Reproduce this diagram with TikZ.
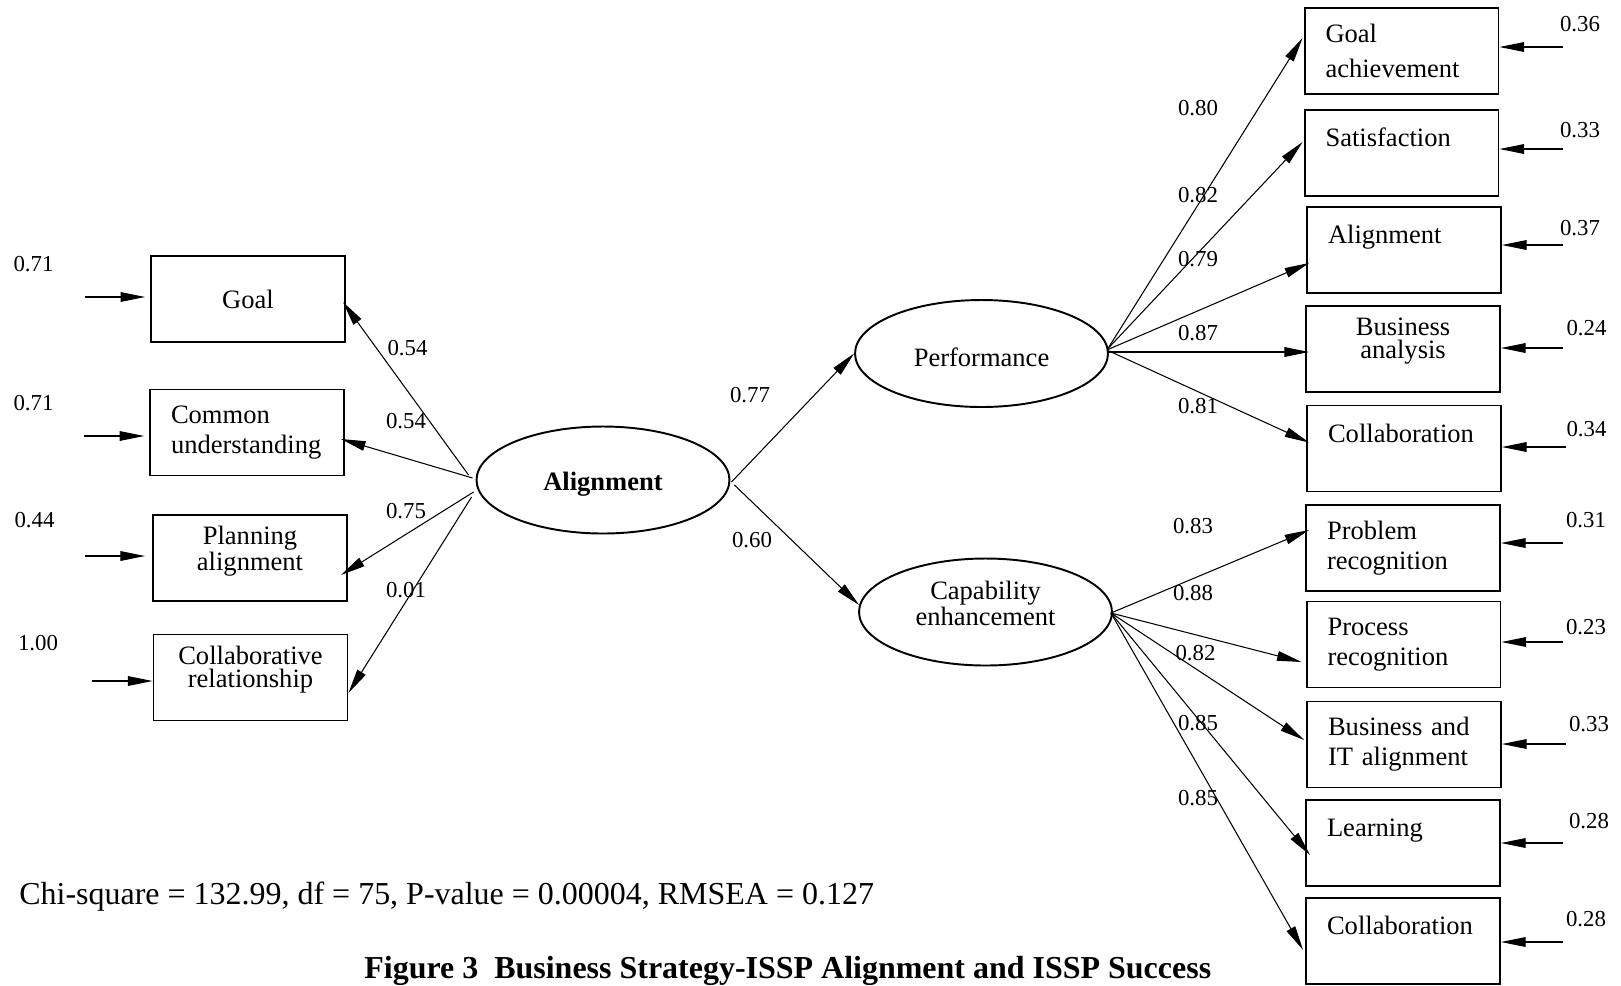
\documentclass[tikz,border=0pt]{standalone}
\usepackage{fontspec}
\setmainfont{Liberation Serif}
\usetikzlibrary{arrows.meta,shapes.geometric,calc}

\begin{document}
\begin{tikzpicture}[x=0.02cm,y=-0.02cm,
		ind/.style={draw,line width=1.1pt,minimum width=3.88cm,minimum height=1.72cm,inner sep=0pt,text width=3.04cm,align=left,font=\fontsize{15.1}{17.1}\selectfont},
		indone/.style={ind,text depth=0.62cm},
		indc/.style={ind,align=center,text depth=0.9cm,font=\fontsize{15.1}{13.3}\selectfont},
		lat/.style={draw,ellipse,line width=1.1pt,minimum width=5.06cm,minimum height=2.14cm,inner sep=0pt,align=center,font=\fontsize{15.1}{13.6}\selectfont},
		load/.style={-{Triangle[length=14pt,width=5.5pt]},line width=0.6pt},
		err/.style={-{Triangle[length=14pt,width=5.5pt]},line width=0.6pt},
		num/.style={inner sep=0pt,font=\fontsize{13}{15}\selectfont}]
			\useasboundingbox (0,0) rectangle (1621,985);
			% latent variables
			\node[lat,text height=0.54cm] (al) at (603,480) {\bfseries Alignment};
			\node[lat,text height=0.54cm] (pf) at (981.5,353.5) {Performance};
			\node[lat,text depth=0.36cm] (cp) at (985.5,612) {Capability\\enhancement};
			% alignment indicators
			\node[ind,align=center] (go) at (248,299) {Goal};
			\node[ind] (cu) at (247,432.5) {Common\\understanding};
			\node[indc] (pl) at (250,558) {Planning\\alignment};
			\node[indc] (cr) at (250.5,677.5) {Collaborative\\relationship};
			% success indicators
			\node[ind] (ga) at (1401.5,51) {Goal\\[2.8pt]achievement};
			\node[indone] (sa) at (1401.5,153) {Satisfaction};
			\node[indone] (am) at (1404,250) {Alignment};
			\node[indc] (ba) at (1403,349) {Business\\analysis};
			\node[indone] (co) at (1404,448.5) {Collaboration};
			\node[ind] (pr) at (1403,548) {Problem\\recognition};
			\node[ind] (pc) at (1403.5,644.5) {Process\\recognition};
			\node[ind] (bi) at (1404,744.5) {Business and\\IT alignment};
			\node[indone] (le) at (1403,843) {Learning};
			\node[indone] (cl) at (1403,941) {Collaboration};
			% loadings
			\draw[load] ($(al.west)+(-7,-5)$) to ($(go.east)+(-3,3)$);
			\draw[load] ($(al.west)+(-3,-2)$) to ($(cu.east)+(-4,6.5)$);
			\draw[load] ($(al.west)+(-2,12)$) to ($(pl.east)+(-7,17)$);
			\draw[load] ($(al.west)+(-4,17)$) to ($(cr.east)+(0,15.5)$);
			\draw[load] ($(al.east)+(1,2)$) to (pf.west);
			\draw[load] ($(al.east)+(4,5)$) to ($(cp.west)+(1,-7)$);
			\draw[load] ($(pf.east)+(-1,-5)$) to ($(ga.west)+(-1,-13)$);
			\draw[load] ($(pf.east)+(-1,-5)$) to ($(sa.west)+(-1,-11)$);
			\draw[load] ($(pf.east)+(-1,-4)$) to ($(am.west)+(3,13)$);
			\draw[load] ($(pf.east)+(-1,-1.5)$) to ($(ba.west)+(4,3)$);
			\draw[load] ($(pf.east)+(-1,-3)$) to ($(co.west)+(3,-6)$);
			\draw[load] ($(cp.east)+(-2,1)$) to ($(pr.west)+(4,-18)$);
			\draw[load] ($(cp.east)+(-2,1)$) to ($(pc.west)+(-4,17.5)$);
			\draw[load] ($(cp.east)+(-2,1)$) to ($(bi.west)+(-2,-4.5)$);
			\draw[load] ($(cp.east)+(-2,1)$) to ($(le.west)+(5,12)$);
			\draw[load] ($(cp.east)+(-2,1)$) to ($(cl.west)+(-2,9)$);
			% error terms
			\coordinate (ego) at (85,297);
			\coordinate (ecu) at (84,436);
			\coordinate (epl) at (85,556);
			\coordinate (ecr) at (92,681);
			\draw[err,shorten >=2.8pt] (ego) to (ego -| go.west);
			\draw[err,shorten >=2.8pt] (ecu) to (ecu -| cu.west);
			\draw[err,shorten >=4pt] (epl) to (epl -| pl.west);
			\draw[err] (ecr) to (ecr -| cr.west);
			\coordinate (ega) at (1563,47);
			\coordinate (esa) at (1563,149);
			\coordinate (eam) at (1563,245);
			\coordinate (eba) at (1563,348);
			\coordinate (eco) at (1566,447);
			\coordinate (epr) at (1563,543);
			\coordinate (epc) at (1563,642);
			\coordinate (ebi) at (1566,744);
			\coordinate (ele) at (1563,843);
			\coordinate (ecl) at (1563,942);
			\draw[err] (ega) to (ega -| ga.east);
			\draw[err] (esa) to (esa -| sa.east);
			\draw[err] (eam) to (eam -| am.east);
			\draw[err] (eba) to (eba -| ba.east);
			\draw[err] (eco) to (eco -| co.east);
			\draw[err] (epr) to (epr -| pr.east);
			\draw[err] (epc) to (epc -| pc.east);
			\draw[err] (ebi) to (ebi -| bi.east);
			\draw[err] (ele) to (ele -| le.east);
			\draw[err] (ecl) to (ecl -| cl.east);
			% error variances
			\node[num] (dgo) at (33.5,264) {0.71};
			\node[num] (dcu) at (33.5,403) {0.71};
			\node[num] (dpl) at (34.5,520) {0.44};
			\node[num] (dcr) at (38,643) {1.00};
			\node[num] (dga) at (1580,24) {0.36};
			\node[num] (dsa) at (1580,130) {0.33};
			\node[num] (dam) at (1580,228.5) {0.37};
			\node[num] (dba) at (1586.5,328.5) {0.24};
			\node[num] (dco) at (1586.5,429) {0.34};
			\node[num] (dpr) at (1586,520) {0.31};
			\node[num] (dpc) at (1586,627) {0.23};
			\node[num] (dbi) at (1589,724) {0.33};
			\node[num] (dle) at (1589,821) {0.28};
			\node[num] (dcl) at (1586,919.5) {0.28};
			% loading values
			\node[num] (lgo) at (407.5,348.5) {0.54};
			\node[num] (lcu) at (406,421.5) {0.54};
			\node[num] (lpl) at (406,511.5) {0.75};
			\node[num] (lcr) at (406,590.5) {0.01};
			\node[num] (lpf) at (750,395.5) {0.77};
			\node[num] (lcp) at (752,540) {0.60};
			\node[num] (lga) at (1198,108.5) {0.80};
			\node[num] (lsa) at (1198,195.5) {0.82};
			\node[num] (lam) at (1198,259) {0.79};
			\node[num] (lba) at (1198,333) {0.87};
			\node[num] (lco) at (1198,406) {0.81};
			\node[num] (lpr) at (1193,526) {0.83};
			\node[num] (lpc) at (1193,593) {0.88};
			\node[num] (lbi) at (1195.5,653) {0.82};
			\node[num] (lle) at (1198,723) {0.85};
			\node[num] (lcl) at (1198,798.5) {0.85};
			% fit and caption
			\node[anchor=base west,inner sep=0pt,font=\fontsize{18.2}{20}\selectfont] (fit) at (19,904) {Chi-square = 132.99, df = 75, P-value = 0.00004, RMSEA = 0.127};
			\node[anchor=base west,inner sep=0pt,font=\fontsize{18.2}{20}\selectfont\bfseries] (cap) at (364,978) {Figure 3\ \ Business Strategy-ISSP Alignment and ISSP Success};
		\end{tikzpicture}
\end{document}
